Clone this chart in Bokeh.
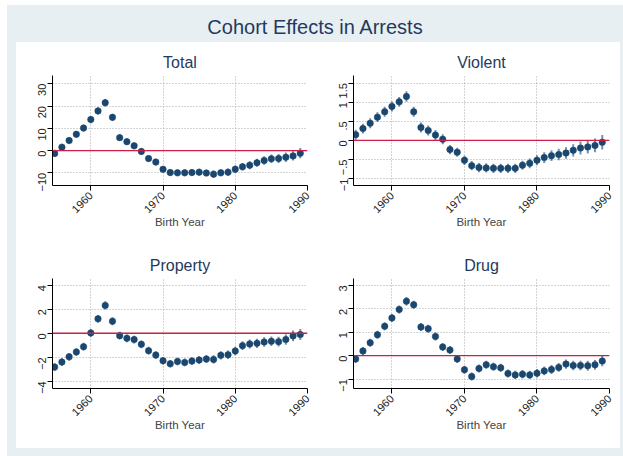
import math
from bokeh.plotting import figure
from bokeh.layouts import column, row
from bokeh.models import ColumnDataSource, Div, Span, FixedTicker, Spacer
from bokeh.embed import file_html
from bokeh.resources import INLINE

# birth-year cohort estimates
years = list(range(1955, 1990))

total = [-1.3, 1.5, 4.5, 7.3, 10.1, 13.9, 17.8, 21.5, 14.9, 5.8, 4.0, 2.1, -0.4, -3.6, -5.2, -8.4, -9.9,
         -10.0, -10.0, -9.9, -9.7, -10.1, -10.6, -10.0, -9.7, -8.4, -7.3, -6.6, -5.5, -4.5, -3.7, -3.6, -3.0, -2.4, -1.2]
total_err = [1.6, 1.5, 1.5, 1.5, 1.5, 1.6, 1.6, 1.7, 1.6, 1.5, 1.5, 1.5, 1.5, 1.5, 1.5, 1.5, 1.5,
             1.5, 1.5, 1.5, 1.5, 1.5, 1.6, 1.6, 1.6, 1.7, 1.7, 1.8, 1.8, 1.9, 1.9, 2.0, 2.1, 2.1, 2.3]

violent = [0.15, 0.31, 0.45, 0.61, 0.75, 0.89, 1.01, 1.15, 0.75, 0.34, 0.26, 0.14, 0.03, -0.24, -0.31, -0.52, -0.66,
           -0.71, -0.72, -0.73, -0.73, -0.73, -0.73, -0.65, -0.60, -0.52, -0.45, -0.40, -0.37, -0.33, -0.26, -0.20, -0.17, -0.13, -0.05]
violent_err = [0.13, 0.13, 0.13, 0.13, 0.13, 0.13, 0.13, 0.14, 0.13, 0.13, 0.13, 0.13, 0.13, 0.12, 0.12, 0.12, 0.12,
               0.12, 0.12, 0.12, 0.12, 0.12, 0.12, 0.12, 0.13, 0.13, 0.14, 0.14, 0.15, 0.15, 0.16, 0.17, 0.17, 0.18, 0.19]

prop = [-2.82, -2.40, -1.96, -1.56, -1.12, 0.03, 1.20, 2.32, 1.00, -0.20, -0.42, -0.53, -0.92, -1.45, -1.82, -2.29, -2.54,
        -2.35, -2.43, -2.32, -2.23, -2.15, -2.18, -1.84, -1.79, -1.48, -1.03, -0.89, -0.84, -0.73, -0.67, -0.70, -0.53, -0.22, -0.11]
prop_err = [0.33, 0.33, 0.32, 0.32, 0.32, 0.32, 0.33, 0.34, 0.33, 0.32, 0.32, 0.32, 0.32, 0.32, 0.32, 0.32, 0.32,
            0.32, 0.32, 0.32, 0.33, 0.33, 0.34, 0.34, 0.35, 0.35, 0.36, 0.37, 0.38, 0.39, 0.40, 0.41, 0.42, 0.44, 0.46]

drug = [-0.14, 0.20, 0.55, 0.89, 1.25, 1.61, 1.97, 2.32, 2.17, 1.22, 1.15, 0.82, 0.37, 0.24, -0.14, -0.60, -0.89,
        -0.55, -0.39, -0.47, -0.52, -0.76, -0.82, -0.79, -0.82, -0.75, -0.65, -0.59, -0.50, -0.36, -0.42, -0.42, -0.43, -0.39, -0.23]
drug_err = [0.17, 0.17, 0.17, 0.17, 0.17, 0.17, 0.17, 0.18, 0.17, 0.17, 0.17, 0.17, 0.17, 0.17, 0.17, 0.17, 0.17,
            0.17, 0.17, 0.17, 0.17, 0.17, 0.18, 0.18, 0.18, 0.18, 0.19, 0.19, 0.19, 0.2, 0.2, 0.2, 0.21, 0.21, 0.22]

x_ticks = [1960, 1970, 1980, 1990]

NAVY = "#1a476f"
FONT = "Liberation Sans"
TITLE_COL = "#1f3a60"
BG = "#e7eff2"


def panel(name, vals, errs, y_range, y_ticks, y_labels, left, right):
    src = ColumnDataSource(dict(
        x=years, y=vals,
        lo=[v - e for v, e in zip(vals, errs)],
        hi=[v + e for v, e in zip(vals, errs)],
    ))
    p = figure(width=302, height=203, x_range=(1954.7, 1990.0), y_range=y_range,
               output_backend="svg", toolbar_location=None,
               min_border_left=left, min_border_right=right,
               min_border_top=33, min_border_bottom=60)
    p.background_fill_color = "white"
    p.border_fill_color = "white"
    p.outline_line_color = None

    p.title.text = name
    p.title.align = "center"
    p.title.text_font = FONT
    p.title.text_font_size = "16px"
    p.title.text_font_style = "normal"
    p.title.text_color = TITLE_COL
    p.title.standoff = 9

    p.xaxis.ticker = FixedTicker(ticks=x_ticks)
    p.yaxis.ticker = FixedTicker(ticks=y_ticks)
    p.yaxis.major_label_overrides = {t: s for t, s in zip(y_ticks, y_labels)}
    p.xaxis.major_label_orientation = math.pi / 4
    p.yaxis.major_label_orientation = math.pi / 2
    p.xaxis.axis_label = "Birth Year"
    p.xaxis.axis_label_text_font = FONT
    p.xaxis.axis_label_text_font_size = "11.5px"
    p.xaxis.axis_label_text_font_style = "normal"
    p.xaxis.axis_label_standoff = -3
    for ax in (p.xaxis, p.yaxis):
        ax.major_label_text_font = FONT
        ax.major_label_text_font_size = "11px"
        ax.major_label_text_color = "#222222"
        ax.axis_line_color = "black"
        ax.major_tick_line_color = "black"
        ax.major_tick_out = 5
        ax.major_tick_in = 0
        ax.minor_tick_line_color = None
    p.xaxis.major_label_standoff = 3
    p.yaxis.major_label_standoff = 5

    for g in (p.xgrid, p.ygrid):
        g.grid_line_color = "#a8a8a8"
        g.grid_line_dash = "1 2"
        g.grid_line_width = 1
    p.xgrid.ticker = FixedTicker(ticks=x_ticks)
    p.ygrid.ticker = FixedTicker(ticks=y_ticks)

    p.add_layout(Span(location=0, dimension="width", line_color="#cc1e46", line_width=1.3))
    p.segment(x0="x", y0="lo", x1="x", y1="hi", source=src,
              line_color=NAVY, line_alpha=0.6, line_width=2)
    p.scatter(x="x", y="y", source=src, size=6.5, marker="circle",
              fill_color=NAVY, line_color=NAVY, line_width=0.5)
    return p


p1 = panel("Total", total, total_err, (-15.7, 33.7),
           [-10, 0, 10, 20, 30], ["−10", "0", "10", "20", "30"], 36, 11)
p2 = panel("Violent", violent, violent_err, (-1.18, 1.70),
           [-1, -0.5, 0, 0.5, 1, 1.5], ["−1", "−.5", "0", ".5", "1", "1.5"], 35, 11)
p3 = panel("Property", prop, prop_err, (-4.6, 4.56),
           [-4, -2, 0, 2, 4], ["−4", "−2", "0", "2", "4"], 36, 11)
p4 = panel("Drug", drug, drug_err, (-1.4, 3.29),
           [-1, 0, 1, 2, 3], ["−1", "0", "1", "2", "3"], 35, 11)

head = Div(text="Cohort Effects in Arrests", width=616, height=37, margin=0,
           styles={"font-family": FONT, "font-size": "20px", "color": TITLE_COL,
                   "text-align": "center", "line-height": "44px"})

grid = column(row(p1, p2), row(p3, p4), styles={"background-color": "white"})
body = row(Spacer(width=9, height=406), grid, Spacer(width=3, height=406))
framed = column(head, body, Spacer(width=616, height=8), styles={"background-color": BG})
page = column(Spacer(width=623, height=5), row(Spacer(width=7, height=451), framed))

open("out.html", "w").write(file_html(page, INLINE))
